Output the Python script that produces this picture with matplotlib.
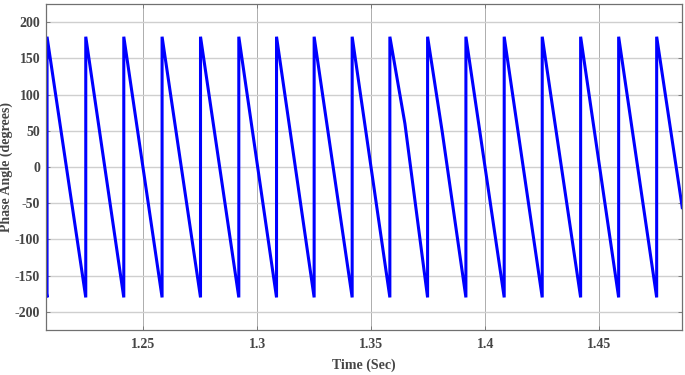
import numpy as np
import matplotlib.pyplot as plt

# times (s) where the phase wraps from -180 up to +180
jump_times = [1.20789, 1.22487, 1.24154, 1.25833, 1.27518, 1.29197,
              1.30851, 1.32500, 1.34167, 1.35820, 1.37474, 1.39154,
              1.40833, 1.42500, 1.44184, 1.45851, 1.47518]
# small bends in two of the ramps
kink_times = [1.3648, 1.3811]
kink_angles = [60, 50]
start_time, start_angle = 1.2071, -162
end_time, end_angle = 1.4864, -56

xticks = [1.25, 1.3, 1.35, 1.4, 1.45]
xticklabels = ["1.25", "1.3", "1.35", "1.4", "1.45"]
yticks = [-200, -150, -100, -50, 0, 50, 100, 150, 200]

t = [start_time]
a = [start_angle]
for tj in jump_times:
    t += [tj, tj]
    a += [-180, 180]
t += kink_times + [end_time]
a += kink_angles + [end_angle]
order = np.argsort(t, kind="stable")
t = np.array(t)[order]
a = np.array(a)[order]

plt.rcParams["font.family"] = ["Liberation Serif", "DejaVu Serif"]
plt.rcParams["axes.unicode_minus"] = False
txt = "#454545"

fig = plt.figure(figsize=(6.85, 3.75), dpi=100)
ax = fig.add_axes([0.0667, 0.12, 0.9293, 0.869])

ax.plot(t, a, color="#0000ff", lw=2.2, solid_joinstyle="miter")

ax.set_xlim(1.2073, 1.4864)
ax.set_ylim(-225, 225)
ax.set_xticks(xticks)
ax.set_xticklabels(xticklabels)
ax.set_yticks(yticks)

ax.grid(axis="y", color="#cfcfcf", lw=1.0)
ax.grid(axis="x", color="#a0a0a0", lw=0.6)
ax.set_axisbelow(True)

for s in ax.spines.values():
    s.set_color("#707070")
    s.set_linewidth(0.9)

ax.tick_params(direction="in", length=3, width=0.6, color="#707070",
               top=True, right=True, labelsize=10, labelcolor=txt)
ax.tick_params(axis="y", pad=4)
ax.tick_params(axis="x", pad=6)
for lab in ax.get_xticklabels() + ax.get_yticklabels():
    lab.set_fontweight("bold")

ax.set_xlabel("Time (Sec)", fontsize=10, fontweight="bold", color=txt, labelpad=5)
ax.set_ylabel("Phase Angle (degrees)", fontsize=10, fontweight="bold", color=txt, labelpad=1)

fig.savefig("out.png", dpi=100)
